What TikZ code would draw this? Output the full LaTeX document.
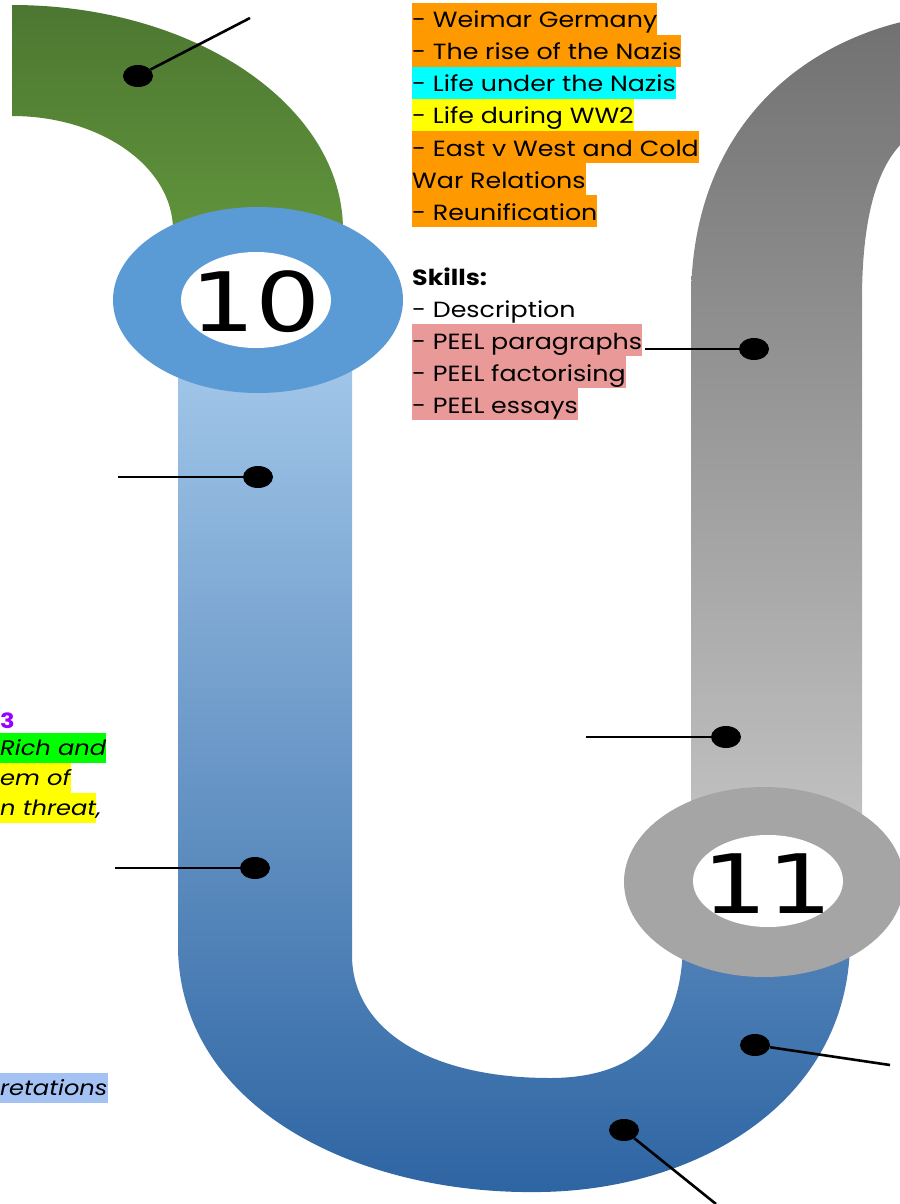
\documentclass[tikz,border=0pt]{standalone}
\usepackage{fontspec}
\setmainfont{Poppins}[FakeStretch=1.15]
\newfontfamily\numfont{DejaVu Sans}
\usepackage{xcolor}
\usepackage{graphicx}
\usetikzlibrary{shapes.geometric}
\definecolor{leafdark}{HTML}{4D7731}
\definecolor{leaflight}{HTML}{63983D}
\definecolor{ringblue}{HTML}{5B9BD5}
\definecolor{pipetop}{HTML}{A0C5E8}
\definecolor{pipemid}{HTML}{5D99D2}
\definecolor{pipebot}{HTML}{2D64A2}
\definecolor{greytop}{HTML}{717171}
\definecolor{greybot}{HTML}{C6C6C6}
\definecolor{ringgrey}{HTML}{A5A5A5}
\definecolor{hlorange}{HTML}{FF9900}
\definecolor{hlcyan}{HTML}{00FFFF}
\definecolor{hlyellow}{HTML}{FFFF00}
\definecolor{hlgreen}{HTML}{00FF00}
\definecolor{hlpink}{HTML}{EA9999}
\definecolor{hlblue}{HTML}{A4C2F4}
\definecolor{unitpurple}{HTML}{9900FF}

\begin{document}
\begin{tikzpicture}[line cap=round,line join=round,x=1pt,y=-1pt,
	dot/.style={ellipse,fill=black,inner sep=0pt,minimum width=30pt,minimum height=22pt},
	leader/.style={line width=2.6pt,line cap=butt},
	topic/.style={anchor=base west,inner sep=0pt,text height=25pt,text depth=7pt,font=\fontsize{22}{32}\selectfont},
	note/.style={anchor=base west,inner sep=0pt,text height=22pt,text depth=8pt,font=\fontsize{21}{29}\selectfont\itshape},
	ringnum/.style={inner sep=0pt,font=\fontsize{82}{82}\selectfont\numfont}]
		\useasboundingbox (0,0) rectangle (899,1204);
		% pipes
		\shade [top color=leafdark,bottom color=leaflight] (12,5) .. controls (195,5) and (343,106) .. (343,230) -- (343,270) -- (173,270) -- (173,230) .. controls (173,167) and (101,116) .. (12,116) -- cycle;
		\shade [top color=greytop,bottom color=greybot] (691,880) -- (691,300) .. controls (691,130) and (800,40) .. (920,18) -- (920,130) .. controls (880,150) and (862,210) .. (862,300) -- (862,880) -- cycle;
		\shade [top color=pipetop,middle color=pipemid,bottom color=pipebot] (178,370) -- (178,950) .. controls (182,1110) and (360,1195) .. (540,1192) .. controls (700,1190) and (850,1100) .. (850,940) -- (683,940) .. controls (683,1040) and (630,1078) .. (550,1078) .. controls (430,1078) and (352,1030) .. (352,955) -- (352,370) -- cycle;
		% rings
		\fill [ringblue] (258,300) ellipse [x radius=145,y radius=93];
		\fill [white] (256,300) ellipse [x radius=75,y radius=48];
		\node [ringnum] (ten) at (256,302) {\scalebox{1.25}[1]{10}};
		\fill [ringgrey] (764,882) ellipse [x radius=140,y radius=95];
		\fill [white] (768,881) ellipse [x radius=75,y radius=46];
		\node [ringnum] (eleven) at (768,884) {\scalebox{1.25}[1]{11}};
		% dots and leaders
		\node [dot] (d1) at (138,76) {};
		\node [dot] (d2) at (258,477) {};
		\node [dot] (d3) at (255,868) {};
		\node [dot] (d4) at (754,349) {};
		\node [dot] (d5) at (726,737) {};
		\node [dot] (d6) at (755,1045) {};
		\node [dot] (d7) at (624,1130) {};
		\coordinate (e1) at (250,18);
		\coordinate (e2) at (118,477);
		\coordinate (e3) at (115,868);
		\coordinate (e4) at (645,349);
		\coordinate (e5) at (586,737);
		\coordinate (e6) at (890,1065);
		\coordinate (e7) at (716,1204);
		\draw [leader] (d1) -- (e1);
		\draw [leader] (d2) -- (e2);
		\draw [leader] (d3) -- (e3);
		\draw [leader] (d4) -- (e4);
		\draw [leader] (d5) -- (e5);
		\draw [leader] (d6) -- (e6);
		\draw [leader] (d7) -- (e7);
		% topics
		\node [topic,fill=hlorange] (t1) at (412,28) {- Weimar Germany};
		\node [topic,fill=hlorange] (t2) at (412,60) {- The rise of the Nazis};
		\node [topic,fill=hlcyan] (t3) at (412,92) {- Life under the Nazis};
		\node [topic,fill=hlyellow] (t4) at (412,124) {- Life during WW2};
		\node [topic,fill=hlorange] (t5) at (412,156) {- East v West and Cold\hspace{10pt}};
		\node [topic,fill=hlorange] (t6) at (412,188) {War Relations};
		\node [topic,fill=hlorange] (t7) at (412,220) {- Reunification};
		\node [topic,font=\fontsize{22}{32}\selectfont\bfseries] (sk) at (412,285) {Skills:};
		\node [topic] (s1) at (412,317) {- Description};
		\node [topic,fill=hlpink] (s2) at (412,349) {- PEEL paragraphs};
		\node [topic,fill=hlpink] (s3) at (412,381) {- PEEL factorising};
		\node [topic,fill=hlpink] (s4) at (412,413) {- PEEL essays};
		% cut notes
		\node [note,font=\fontsize{21}{29}\selectfont\bfseries,text=unitpurple] (n0) at (0,728) {3};
		\node [note,fill=hlgreen] (n1) at (0,755) {Rich and\hspace{8pt}};
		\node [note,fill=hlyellow] (n2) at (0,785) {em of\hspace{8pt}};
		\node [note,fill=hlyellow] (n3) at (0,815) {n threat};
		\node [note,anchor=base west] (n3c) at (n3.base east) {,};
		\node [note,fill=hlblue] (n4) at (0,1095) {retations};
\end{tikzpicture}
\end{document}
